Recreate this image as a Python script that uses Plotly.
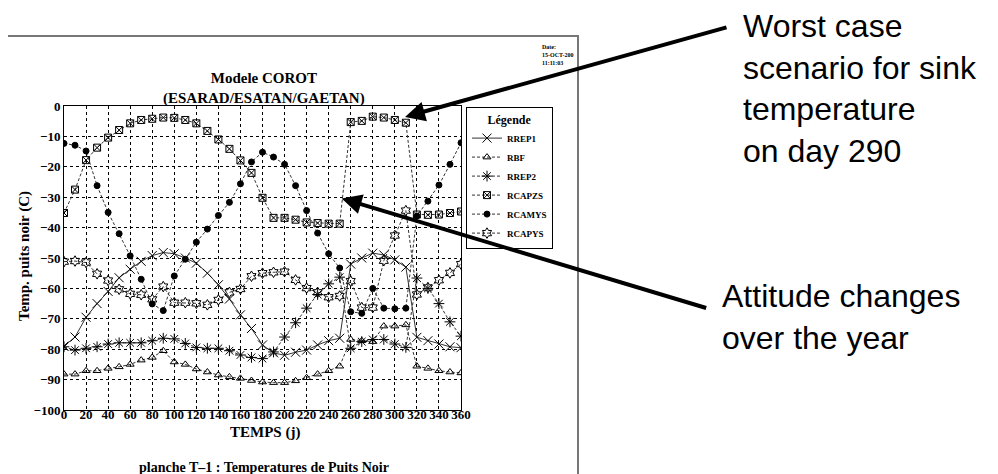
import plotly.graph_objects as go

days = list(range(0, 361, 10))

rrep1 = [-79, -76, -69.5, -65, -61, -56.5, -53.7, -51.1, -49.2, -48.2, -48.6, -50, -51.7, -55, -58.8,
         -63.5, -68.7, -73.2, -78.6, -81.2, -82, -81, -80.3, -78.6, -77.2, -76.4, -52, -50, -48.4,
         -49, -50.6, -53, -76.1, -77.2, -78.3, -79.2, -79.5]
rbf = [-88.2, -88.2, -87.1, -87.1, -86.3, -85.8, -85, -83.6, -82.7, -80.5, -84.2, -85, -86.5, -87.5,
       -88.5, -89.1, -89.6, -90.3, -90.8, -91, -91, -90.4, -89.4, -88.2, -87.1, -85.6, -76.8, -77.2,
       -77.5, -72.4, -72.4, -72, -85.6, -86.3, -87.1, -87.5, -87.8]
rrep2 = [-79.2, -80.3, -79.7, -79.2, -78.3, -77.9, -77.9, -77.9, -77.2, -76.4, -76.6, -78.1, -79.4,
         -79.7, -79.7, -80.5, -81.9, -82.7, -83.1, -80.9, -76, -71.3, -66.5, -62, -58.5, -56.3,
         -79.7, -77.5, -76.8, -76.8, -78.3, -79.4, -56.6, -60, -65, -71, -75.7]
rcapzs = [-35.2, -27.5, -17.8, -13.7, -10.4, -7.9, -5.7, -4.6, -4.2, -3.8, -3.9, -4.6, -5.7, -8.2,
          -11, -14.1, -17.9, -22, -30.2, -36.8, -36.8, -37.4, -38.3, -38.5, -38.7, -38.7, -5.3,
          -4.9, -3.5, -3.8, -4.6, -5.5, -35.7, -35.8, -35.7, -35.2, -34.7]
rcamys = [-12.3, -12.9, -14.8, -26.2, -35, -42, -49.3, -57, -65.1, -67.3, -55.9, -50.4, -44.8, -40.5,
          -36, -31.7, -25.6, -18.4, -15.2, -16.8, -19.2, -26.2, -34.4, -41.8, -48.6, -53.3, -67.7,
          -68.2, -60, -66.5, -66.7, -66.5, -36.2, -31.3, -26, -19.2, -12.1]
rcapys = [-51.2, -51, -51.5, -55.2, -57.4, -60.3, -61.8, -62.1, -63.6, -59.4, -64.7, -64.7, -64.9,
          -65.4, -63.8, -61.3, -60.2, -56, -55, -54.7, -54.5, -57.2, -59.9, -61.3, -62.9, -62.5,
          -57.6, -66.3, -66.3, -50.9, -42.6, -34.4, -62, -59.7, -57.3, -54.9, -52]

x_ticks = list(range(0, 361, 20))
y_ticks = list(range(-100, 1, 10))

series = [
    ("RREP1", rrep1, "x-thin-open", 9, "solid"),
    ("RBF", rbf, "triangle-up-open", 7, "3px,2px"),
    ("RREP2", rrep2, "asterisk-open", 9, "3px,2px"),
    ("RCAPZS", rcapzs, "square-x-open", 7, "3px,2px"),
    ("RCAMYS", rcamys, "circle", 6, "3px,2px"),
    ("RCAPYS", rcapys, "hexagram-open", 8, "3px,2px"),
]

SERIF = "Liberation Serif"
SANS = "Liberation Sans"

fig = go.Figure()
for name, vals, sym, size, dash in series:
    fig.add_trace(go.Scatter(
        x=days, y=vals, name=name, mode="lines+markers",
        line=dict(color="#333333", width=1, dash=dash),
        marker=dict(symbol=sym, size=size, color="black", line=dict(color="black", width=1)),
    ))

OFF = 8  # page body margin offset
W, H = 998 - OFF, 474 - OFF
L, T = 64 - OFF, 106 - OFF
PW, PH = 397, 304
R, B = W - L - PW, H - T - PH


def px(xp):
    return (xp - OFF - L) / PW


def py(yp):
    return (T + PH - (yp - OFF)) / PH


axis_common = dict(
    showgrid=True, gridcolor="black", gridwidth=1, griddash="3px,3px",
    showline=True, linecolor="black", linewidth=1, mirror=True,
    zeroline=False, ticks="", automargin=False,
    tickfont=dict(family=SERIF, size=13, color="black", weight="bold"),
)

fig.update_layout(
    width=W, height=H,
    margin=dict(l=L, r=R, t=T, b=B),
    paper_bgcolor="white", plot_bgcolor="white",
    xaxis=dict(range=[0, 360], tickvals=x_ticks, ticklabelstandoff=-8, **axis_common),
    yaxis=dict(range=[-100, 0], tickvals=y_ticks, **axis_common),
    showlegend=True,
    legend=dict(
        x=px(466), y=py(107), xanchor="left", yanchor="top",
        bordercolor="black", borderwidth=1, bgcolor="white",
        font=dict(family=SERIF, size=9, color="black", weight="bold"),
        title=dict(text="Légende", side="top center", font=dict(family=SERIF, size=12, color="black")),
        tracegroupgap=0, itemwidth=30,
    ),
)

ann = [
    dict(text="<b>Modele COROT<br>(ESARAD/ESATAN/GAETAN)</b>", x=px(264), y=py(88),
         font=dict(family=SERIF, size=15)),
    dict(text="<b>TEMPS (j)</b>", x=px(265), y=py(432), font=dict(family=SERIF, size=15)),
    dict(text="<b>planche T\u20131 : Temperatures de Puits Noir</b>", x=px(264), y=py(467),
         font=dict(family=SERIF, size=14)),
    dict(text="<b>Temp. puits noir (C)</b>", x=px(24), y=py(256), textangle=-90,
         font=dict(family=SERIF, size=15)),
]
for a in ann:
    a.update(xref="paper", yref="paper", showarrow=False, xanchor="center", yanchor="middle")
    a["font"]["color"] = "black"
    fig.add_annotation(**a)

fig.add_annotation(text="<b>Date:<br>15-OCT-200<br>11:11:03</b>", xref="paper", yref="paper",
                   x=px(540), y=py(42), xanchor="left", yanchor="top", align="left", showarrow=False,
                   font=dict(family=SERIF, size=6, color="black"))

fig.add_annotation(text="Worst case<br>scenario for sink<br>temperature<br>on day 290",
                   xref="paper", yref="paper", x=px(741), y=py(6), xanchor="left", yanchor="top",
                   align="left", showarrow=False, font=dict(family=SANS, size=32, color="black"))
fig.add_annotation(text="Attitude changes<br>over the year",
                   xref="paper", yref="paper", x=px(720), y=py(276), xanchor="left", yanchor="top",
                   align="left", showarrow=False, font=dict(family=SANS, size=32, color="black"))

# arrows (tip in data coordinates, tail as pixel offset)
fig.add_annotation(x=309.2, y=-3.6, xref="x", yref="y", ax=323, ay=-90, text="",
                   showarrow=True, arrowhead=2, arrowsize=1, arrowwidth=4, arrowcolor="black")
fig.add_annotation(x=251.8, y=-30.4, xref="x", yref="y", ax=366, ay=110, text="",
                   showarrow=True, arrowhead=2, arrowsize=1, arrowwidth=4, arrowcolor="black")

# outer page frame
fig.add_shape(type="rect", xref="paper", yref="paper", x0=px(7), x1=px(578), y0=py(490), y1=py(36),
              line=dict(color="#777777", width=2), layer="below")

fig.write_html("out.html")
